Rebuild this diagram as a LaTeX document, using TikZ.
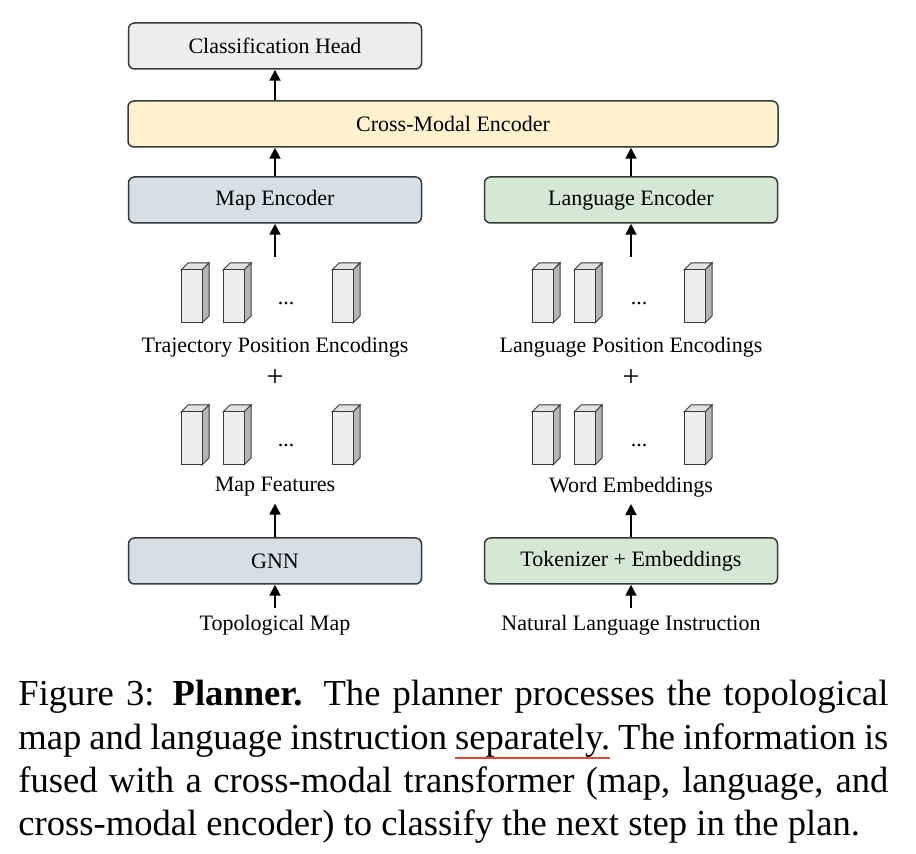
\documentclass[tikz,border=0pt]{standalone}
\usepackage{fontspec}
\setmainfont{Liberation Serif}
\usetikzlibrary{arrows.meta}

\definecolor{boxline}{HTML}{36393D}
\definecolor{headfill}{HTML}{EEEEEE}
\definecolor{crossfill}{HTML}{FFF2CC}
\definecolor{mapfill}{HTML}{D5DFE5}
\definecolor{langfill}{HTML}{D5E8D4}
\definecolor{tokfront}{HTML}{EEEEEE}
\definecolor{tokside}{HTML}{B5B5B5}
\definecolor{tokup}{HTML}{E2E2E2}
\definecolor{spellred}{HTML}{E8433A}

\newcommand\redline[1]{\setbox0=\hbox{#1}\rlap{\color{spellred}\rule[-5pt]{\wd0}{1pt}}\box0\relax}

\tikzset{
	block/.style={draw=boxline,line width=0.75pt,rounded corners=3pt,
		minimum width=146.5pt,minimum height=23pt,font=\fontsize{11}{13}\selectfont},
	lbl/.style={font=\fontsize{11}{13}\selectfont},
	up/.style={-{Triangle[width=5.5pt,length=5.5pt]},line width=1pt},
	token/.pic={
		\filldraw[draw=boxline,line width=0.5pt,fill=tokup] (0,0) -- (7,-7) -- (28,-7) -- (21,0) -- cycle;
		\filldraw[draw=boxline,line width=0.5pt,fill=tokside] (21,0) -- (28,-7) -- (28,46) -- (21,53) -- cycle;
		\filldraw[draw=boxline,line width=0.5pt,fill=tokfront] (0,0) rectangle (21,53);
	}
}

\begin{document}
\begin{tikzpicture}[x=0.5pt,y=-0.5pt]
	\useasboundingbox (0,0) rectangle (916,854);

	% boxes
	\node[block,fill=headfill] (head) at (275,46) {Classification Head};
	\node[block,fill=crossfill,minimum width=325pt] (cross) at (453,124) {Cross-Modal Encoder};
	\node[block,fill=mapfill] (mapenc) at (275,200) {Map Encoder};
	\node[block,fill=langfill] (langenc) at (631,200) {Language Encoder};
	\node[block,fill=mapfill] (gnn) at (275,561) {GNN};
	\node[block,fill=langfill] (tok) at (631,561) {Tokenizer + Embeddings};

	% token rows
	\foreach \x in {181,223,332,532,574,684}
		\foreach \y in {270,412}
			\pic at (\x,\y) {token};
	\foreach \x/\y in {286/304,639/304,286/446,639/446}
		\node[lbl] at (\x,\y) {...};

	% labels
	\node[lbl] (trajpos) at (275,347) {Trajectory Position Encodings};
	\node[lbl] (langpos) at (631,347) {Language Position Encodings};
	\node[lbl,font=\fontsize{15}{17}\selectfont] (plusl) at (275,378) {+};
	\node[lbl,font=\fontsize{15}{17}\selectfont] (plusr) at (631,378) {+};
	\node[lbl] (mapfeat) at (275,487) {Map Features};
	\node[lbl] (wordemb) at (631,487) {Word Embeddings};
	\node[lbl] (topo) at (275,625) {Topological Map};
	\node[lbl] (instr) at (631,625) {Natural Language Instruction};
	\coordinate (maptop) at (275,257);
	\coordinate (langtop) at (631,257);

	% arrows
	\draw[up] (cross.north -| head) -- (head.south);
	\draw[up] (mapenc.north) -- (mapenc.north |- cross.south);
	\draw[up] (langenc.north) -- (langenc.north |- cross.south);
	\draw[up] (maptop) -- (mapenc.south);
	\draw[up] (langtop) -- (langenc.south);
	\draw[up] (gnn.north) -- (mapfeat.south);
	\draw[up] (tok.north) -- (wordemb.south);
	\draw[up] (topo.north) -- (gnn.south);
	\draw[up] (instr.north) -- (tok.south);

	% caption
	\node[anchor=north west,text width=435pt,align=justify,inner sep=0pt,
		font=\fontsize{18.3}{21.7}\selectfont] (caption) at (18,680)
		{Figure 3: \textbf{Planner.} The planner processes the topological\linebreak
		map and language instruction \redline{separately.} The information is\linebreak
		fused with a cross-modal transformer (map, language, and\linebreak
		cross-modal encoder) to classify the next step in the plan.};
\end{tikzpicture}
\end{document}
